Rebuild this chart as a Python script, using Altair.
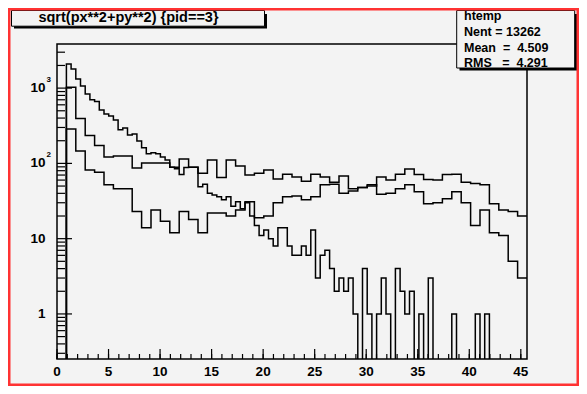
import altair as alt
import pandas as pd

# ---------------- data ----------------
X_LO, X_HI = 0.0, 45.6
Y_LO, Y_HI = 0.252, 3855

# histogram "htemp" : 100 bins over [0, 45.6]
a_counts = [0, 0, 2089, 1791, 1322, 1067, 836, 703, 662, 513,
            454, 427, 378, 279, 296, 239, 246, 199, 161, 134,
            138, 134, 122, 111, 89, 85, 71, 88, 89, 89,
            49, 53, 40, 38, 36, 33, 36, 27, 31, 25,
            30, 20, 15, 11, 13, 10, 8, 14, 14, 8,
            6, 6, 8, 6, 13, 3, 6, 7, 4, 2,
            3, 2, 3, 1, 0, 4, 1, 0, 1, 3,
            1, 0, 4, 2, 1, 2, 0, 1, 0, 3,
            0, 0, 0, 0, 1, 0, 0, 0, 0, 1,
            0, 1, 0, 0, 0, 0, 0, 0, 0, 0]

# two further histograms : 50 bins over [0, 45.6]
b_counts = [0, 1023, 396, 235, 173, 122, 125, 125, 87, 101,
            101, 101, 89, 114, 89, 74, 111, 65, 111, 92,
            70, 74, 82, 62, 72, 66, 58, 72, 66, 56,
            68, 46, 48, 50, 66, 60, 72, 84, 71, 61,
            60, 71, 72, 56, 54, 52, 29, 24, 23, 20]
c_counts = [0, 286, 146, 82, 76, 52, 46, 46, 23, 14,
            24, 17, 12, 23, 18, 12, 22, 22, 20, 24,
            31, 19, 20, 30, 36, 37, 33, 36, 52, 53,
            40, 43, 48, 52, 39, 40, 46, 52, 42, 29,
            30, 34, 42, 30, 15, 24, 12, 11, 5, 3]

x_major = [0, 5, 10, 15, 20, 25, 30, 35, 40, 45]
x_labels = ["0", "5", "10", "15", "20", "25", "30", "35", "40", "45"]
x_minor = list(range(0, 46))
y_major = [1, 10, 100, 1000]
y_base = ["1", "10", "10", "10"]
y_sup = ["", "", "2", "3"]
y_minor = [m * 10 ** k for k in range(-1, 4) for m in range(2, 10)
           if Y_LO < m * 10 ** k < Y_HI]

title_text = "sqrt(px**2+py**2) {pid==3}"
stats_lines = ["htemp", "Nent = 13262", "Mean\u00a0\u00a0=\u00a0\u00a04.509",
               "RMS\u00a0\u00a0\u00a0=\u00a0\u00a04.291"]

# ---------------- layout ----------------
W, H = 470, 315
PL, PT, PR, PB = 49, 36, 52, 27
FONT = "Liberation Sans"
BG = "#f3f3f3"


def steps(counts, name):
    n = len(counts)
    w = (X_HI - X_LO) / n
    xs = [X_LO + i * w for i in range(n)] + [X_HI]
    vals = list(counts) + [counts[-1]]
    ys = [v if v > 0 else 0.05 for v in vals]
    return pd.DataFrame({"x": xs, "y": ys, "h": name, "o": list(range(n + 1))})


hist_df = pd.concat([steps(a_counts, "a"), steps(b_counts, "b"),
                     steps(c_counts, "c")], ignore_index=True)

xscale = alt.Scale(domain=[X_LO, X_HI], nice=False, zero=False)
yscale = alt.Scale(type="log", domain=[Y_LO, Y_HI], nice=False)

hist = alt.Chart(hist_df).mark_line(
    interpolate="step-after", color="black", strokeWidth=1.5, clip=True
).encode(
    x=alt.X("x:Q", scale=xscale, axis=None),
    y=alt.Y("y:Q", scale=yscale, axis=None),
    detail="h:N",
    order="o:Q",
)

ymaj_df = pd.DataFrame({"v": y_major, "base": y_base, "sup": y_sup})
ymin_df = pd.DataFrame({"v": y_minor})
xmaj_df = pd.DataFrame({"v": x_major, "lab": x_labels})
xmin_df = pd.DataFrame({"v": x_minor})

yt_major = alt.Chart(ymaj_df).mark_rule(color="black", strokeWidth=1.2).encode(
    y=alt.Y("v:Q", scale=yscale, axis=None), x=alt.value(0), x2=alt.value(15))
yt_minor = alt.Chart(ymin_df).mark_rule(color="black", strokeWidth=1.2).encode(
    y=alt.Y("v:Q", scale=yscale, axis=None), x=alt.value(0), x2=alt.value(8))
xt_major = alt.Chart(xmaj_df).mark_rule(color="black", strokeWidth=1.2).encode(
    x=alt.X("v:Q", scale=xscale, axis=None), y=alt.value(H), y2=alt.value(H - 10))
xt_minor = alt.Chart(xmin_df).mark_rule(color="black", strokeWidth=1.2).encode(
    x=alt.X("v:Q", scale=xscale, axis=None), y=alt.value(H), y2=alt.value(H - 5))

ylab = alt.Chart(ymaj_df).mark_text(
    align="right", baseline="middle", font=FONT, fontSize=13.5, fontWeight="bold"
).encode(y=alt.Y("v:Q", scale=yscale, axis=None), x=alt.value(-11.5), text="base:N")
ysup = alt.Chart(ymaj_df).mark_text(
    align="left", baseline="middle", font=FONT, fontSize=8, fontWeight="bold", dy=-8
).encode(y=alt.Y("v:Q", scale=yscale, axis=None), x=alt.value(-10.5), text="sup:N")
xlab = alt.Chart(xmaj_df).mark_text(
    align="center", baseline="middle", font=FONT, fontSize=13.5, fontWeight="bold"
).encode(x=alt.X("v:Q", scale=xscale, axis=None), y=alt.value(328), text="lab:N")

one = pd.DataFrame({"k": [0]})

# stats box (with shadow)
stats_shadow = alt.Chart(one).mark_rect(fill="black").encode(
    x=alt.value(402.5), x2=alt.value(520.5), y=alt.value(-30), y2=alt.value(26.5))
stats_box = alt.Chart(one).mark_rect(fill=BG, stroke="black", strokeWidth=1).encode(
    x=alt.value(399.7), x2=alt.value(517.7), y=alt.value(-33.5), y2=alt.value(24))
stats_y = [-28.5, -12.3, 4.0, 19.0]
stats_txt = [
    alt.Chart(one).mark_text(align="left", baseline="middle", font=FONT,
                             fontSize=12.5, fontWeight="bold", color="black").encode(
        x=alt.value(407), y=alt.value(yy), text=alt.value(t))
    for t, yy in zip(stats_lines, stats_y)
]

# title box (with shadow)
title_shadow = alt.Chart(one).mark_rect(fill="black").encode(
    x=alt.value(-43), x2=alt.value(210), y=alt.value(-30), y2=alt.value(-15.5))
title_box = alt.Chart(one).mark_rect(fill=BG, stroke="black", strokeWidth=1).encode(
    x=alt.value(-45.5), x2=alt.value(207.5), y=alt.value(-33.5), y2=alt.value(-17.8))
title_txt = alt.Chart(one).mark_text(
    align="center", baseline="alphabetic", font=FONT, fontSize=14.5, fontWeight="bold"
).encode(x=alt.value(71.5), y=alt.value(-22.5), text=alt.value(title_text))

# red canvas border
border = alt.Chart(one).mark_rect(fill=None, stroke="#ff3333", strokeWidth=2.5).encode(
    x=alt.value(-PL + 1.25), x2=alt.value(W + PR - 1.25),
    y=alt.value(-PT + 1.25), y2=alt.value(H + PB - 1.25))

chart = alt.layer(
    hist, yt_minor, yt_major, xt_minor, xt_major, ylab, ysup, xlab,
    stats_shadow, stats_box, *stats_txt,
    title_shadow, title_box, title_txt, border,
).properties(
    width=W, height=H,
    padding={"left": PL, "top": PT, "right": PR, "bottom": PB},
    autosize=alt.AutoSizeParams(type="none"),
    background=BG,
).configure_view(stroke="black", strokeWidth=1.5, fill=BG)

chart.save("out.html", embed_options={"renderer": "svg", "actions": False})
